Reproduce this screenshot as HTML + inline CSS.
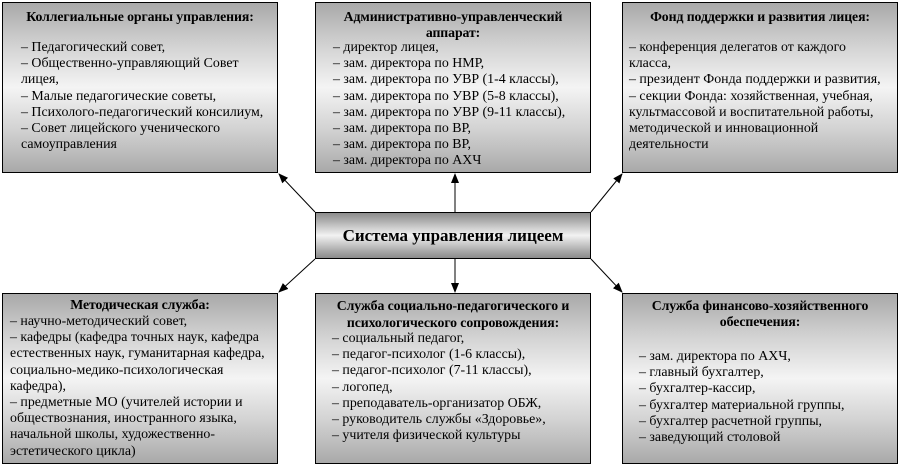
<!DOCTYPE html>
<html><head><meta charset="utf-8"><style>
body{margin:0;width:900px;height:465px;background:#fff;position:relative;overflow:hidden;font-family:"Liberation Serif","DejaVu Serif",serif;color:#000}
.b{position:absolute;box-sizing:border-box;border:1px solid #000;background:linear-gradient(to bottom,#a9a9a9 0%,#d2d2d2 25%,#f4f4f4 50%,#d2d2d2 75%,#a9a9a9 100%)}
.t{position:absolute;left:0;right:0;text-align:center;font-weight:bold;font-size:13.8px;line-height:16px;white-space:nowrap;letter-spacing:-0.1px}
.l{position:absolute;font-size:13.9px;line-height:16.2px;white-space:nowrap}
.c{position:absolute;left:315px;top:212px;width:276px;height:47px;box-sizing:border-box;border:1px solid #000;
background:linear-gradient(to bottom,#8c8c8c 0%,#a8a8a8 15%,#c8c8c8 30%,#f2f2f2 50%,#c8c8c8 70%,#a8a8a8 85%,#8c8c8c 100%);
text-align:center;font-size:17px;font-weight:bold;line-height:45px}
</style></head><body>
<svg width="900" height="465" style="position:absolute;left:0;top:0">
<defs><marker id="a" markerWidth="10" markerHeight="8" refX="9" refY="4" orient="auto" markerUnits="userSpaceOnUse"><path d="M0,0 L10,4 L0,8 z" fill="#000"/></marker></defs>
<g stroke="#000" stroke-width="1" fill="none" marker-end="url(#a)">
<line x1="315" y1="212" x2="279" y2="174"/>
<line x1="455" y1="212" x2="455" y2="174"/>
<line x1="591" y1="212" x2="622" y2="174"/>
<line x1="315" y1="259" x2="279" y2="292"/>
<line x1="455" y1="259" x2="455" y2="292"/>
<line x1="591" y1="259" x2="622" y2="292"/>
</g></svg>

<div class="b" style="left:2px;top:2px;width:276px;height:171px">
<div class="t" style="top:6px">Коллегиальные органы управления:</div>
<div class="l" style="left:18px;top:37px">– Педагогический совет,<br>– Общественно-управляющий Совет<br>лицея,<br>– Малые педагогические советы,<br>– Психолого-педагогический консилиум,<br>– Совет лицейского ученического<br>самоуправления</div>
</div>

<div class="b" style="left:315px;top:2px;width:276px;height:171px">
<div class="t" style="top:6px">Административно-управленческий<br>аппарат:</div>
<div class="l" style="left:17px;top:37px">– директор лицея,<br>– зам. директора по НМР,<br>– зам. директора по УВР (1-4 классы),<br>– зам. директора по УВР (5-8 классы),<br>– зам. директора по УВР (9-11 классы),<br>– зам. директора по ВР,<br>– зам. директора по ВР,<br>– зам. директора по АХЧ</div>
</div>

<div class="b" style="left:622px;top:2px;width:276px;height:171px">
<div class="t" style="top:6px">Фонд поддержки и развития лицея:</div>
<div class="l" style="left:6px;top:37px">– конференция делегатов от каждого<br>класса,<br>– президент Фонда поддержки и развития,<br>– секции Фонда: хозяйственная, учебная,<br>культмассовой и воспитательной работы,<br>методической и инновационной<br>деятельности</div>
</div>

<div class="c">Система управления лицеем</div>

<div class="b" style="left:2px;top:293px;width:276px;height:171px">
<div class="t" style="top:3px">Методическая служба:</div>
<div class="l" style="left:7px;top:20px">– научно-методический совет,<br>– кафедры (кафедра точных наук, кафедра<br>естественных наук, гуманитарная кафедра,<br>социально-медико-психологическая<br>кафедра),<br>– предметные МО (учителей истории и<br>обществознания, иностранного языка,<br>начальной школы, художественно-<br>эстетического цикла)</div>
</div>

<div class="b" style="left:315px;top:293px;width:276px;height:171px">
<div class="t" style="top:3px;line-height:17px">Служба социально-педагогического и<br>психологического сопровождения:</div>
<div class="l" style="left:16px;top:37px">– социальный педагог,<br>– педагог-психолог (1-6 классы),<br>– педагог-психолог (7-11 классы),<br>– логопед,<br>– преподаватель-организатор ОБЖ,<br>– руководитель службы «Здоровье»,<br>– учителя физической культуры</div>
</div>

<div class="b" style="left:622px;top:293px;width:276px;height:171px">
<div class="t" style="top:4px">Служба финансово-хозяйственного<br>обеспечения:</div>
<div class="l" style="left:16px;top:55px">– зам. директора по АХЧ,<br>– главный бухгалтер,<br>– бухгалтер-кассир,<br>– бухгалтер материальной группы,<br>– бухгалтер расчетной группы,<br>– заведующий столовой</div>
</div>
</body></html>
